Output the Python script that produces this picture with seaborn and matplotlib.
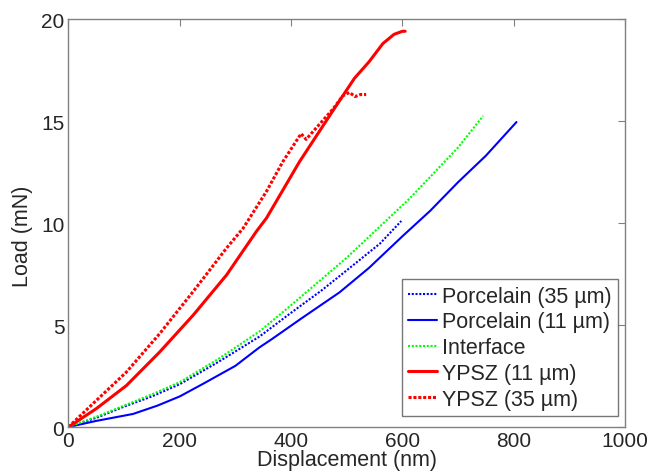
import matplotlib
matplotlib.use("Agg")
import matplotlib.pyplot as plt
import seaborn as sns
import pandas as pd

# Displacement (nm) / Load (mN)
por35_x = [0, 50, 100, 150, 200, 270, 343, 400, 455, 510, 560, 598]
por35_y = [0, 0.45, 1.0, 1.5, 2.1, 3.2, 4.43, 5.6, 6.7, 7.9, 9.0, 10.1]

por11_x = [0, 50, 116, 160, 200, 242, 300, 343, 365, 420, 487, 540, 600, 650, 700, 750, 805]
por11_y = [0, 0.3, 0.64, 1.05, 1.5, 2.12, 3.0, 3.9, 4.3, 5.35, 6.6, 7.8, 9.35, 10.6, 12.0, 13.3, 14.95]

inter_x = [0, 50, 100, 150, 200, 270, 343, 397, 500, 613, 700, 745]
inter_y = [0, 0.5, 1.05, 1.6, 2.2, 3.35, 4.68, 5.9, 8.3, 11.2, 13.7, 15.25]

ypsz11_x = [0, 50, 104, 164, 224, 284, 338, 356, 415, 475, 514, 540, 565, 585, 600, 605]
ypsz11_y = [0, 0.9, 2.03, 3.68, 5.48, 7.45, 9.6, 10.25, 13.0, 15.5, 17.1, 17.9, 18.8, 19.25, 19.4, 19.4]

ypsz35_x = [0, 50, 104, 164, 224, 254, 284, 314, 356, 385, 418, 427, 451, 475, 493, 505, 515, 525, 535]
ypsz35_y = [0, 1.3, 2.69, 4.58, 6.64, 7.7, 8.77, 9.75, 11.56, 13.0, 14.38, 14.1, 14.84, 15.58, 16.24, 16.4, 16.2, 16.3, 16.3]

series = [
    ("Porcelain (35 \u00b5m)", por35_x, por35_y, "#0000ff", (0, (1, 0.8)), 1.5),
    ("Porcelain (11 \u00b5m)", por11_x, por11_y, "#0000ff", "-", 1.5),
    ("Interface", inter_x, inter_y, "#00ff00", (0, (1, 0.8)), 1.5),
    ("YPSZ (11 \u00b5m)", ypsz11_x, ypsz11_y, "#ff0000", "-", 2.2),
    ("YPSZ (35 \u00b5m)", ypsz35_x, ypsz35_y, "#ff0000", (0, (1, 0.6)), 2.2),
]

sns.set_style("white")
plt.rcParams['font.family'] = ['Liberation Sans', 'DejaVu Sans']

fig, ax = plt.subplots(figsize=(6.52, 4.77), dpi=100)

for name, xs, ys, col, ls, lw in series:
    df = pd.DataFrame({"x": xs, "y": ys})
    sns.lineplot(data=df, x="x", y="y", ax=ax, color=col, linestyle=ls,
                 linewidth=lw, label=name, sort=False)

ax.set_xlim(0, 1000)
ax.set_ylim(0, 20)
ax.set_xticks(range(0, 1001, 200))
ax.set_yticks(range(0, 21, 5))
ax.set_xlabel("Displacement (nm)", fontsize=15.5, labelpad=-1)
ax.set_ylabel("Load (mN)", fontsize=15.5)
ax.yaxis.set_label_coords(-0.063, 0.47)
ax.tick_params(direction="in", length=5, color="#808080", labelsize=15,
               top=True, right=True, pad=3)
for sp in ax.spines.values():
    sp.set_color("#808080")
    sp.set_linewidth(1)

leg = ax.legend(loc="lower right", bbox_to_anchor=(0.987, 0.027), fontsize=15.5,
                frameon=True, fancybox=False, edgecolor="#555555",
                handlelength=1.35, handletextpad=0.2, borderpad=0.3,
                labelspacing=0.22, borderaxespad=0)
leg.get_frame().set_linewidth(1)

plt.subplots_adjust(left=0.105, right=0.9586, top=0.958, bottom=0.1027)
plt.savefig("out.png", dpi=100)
